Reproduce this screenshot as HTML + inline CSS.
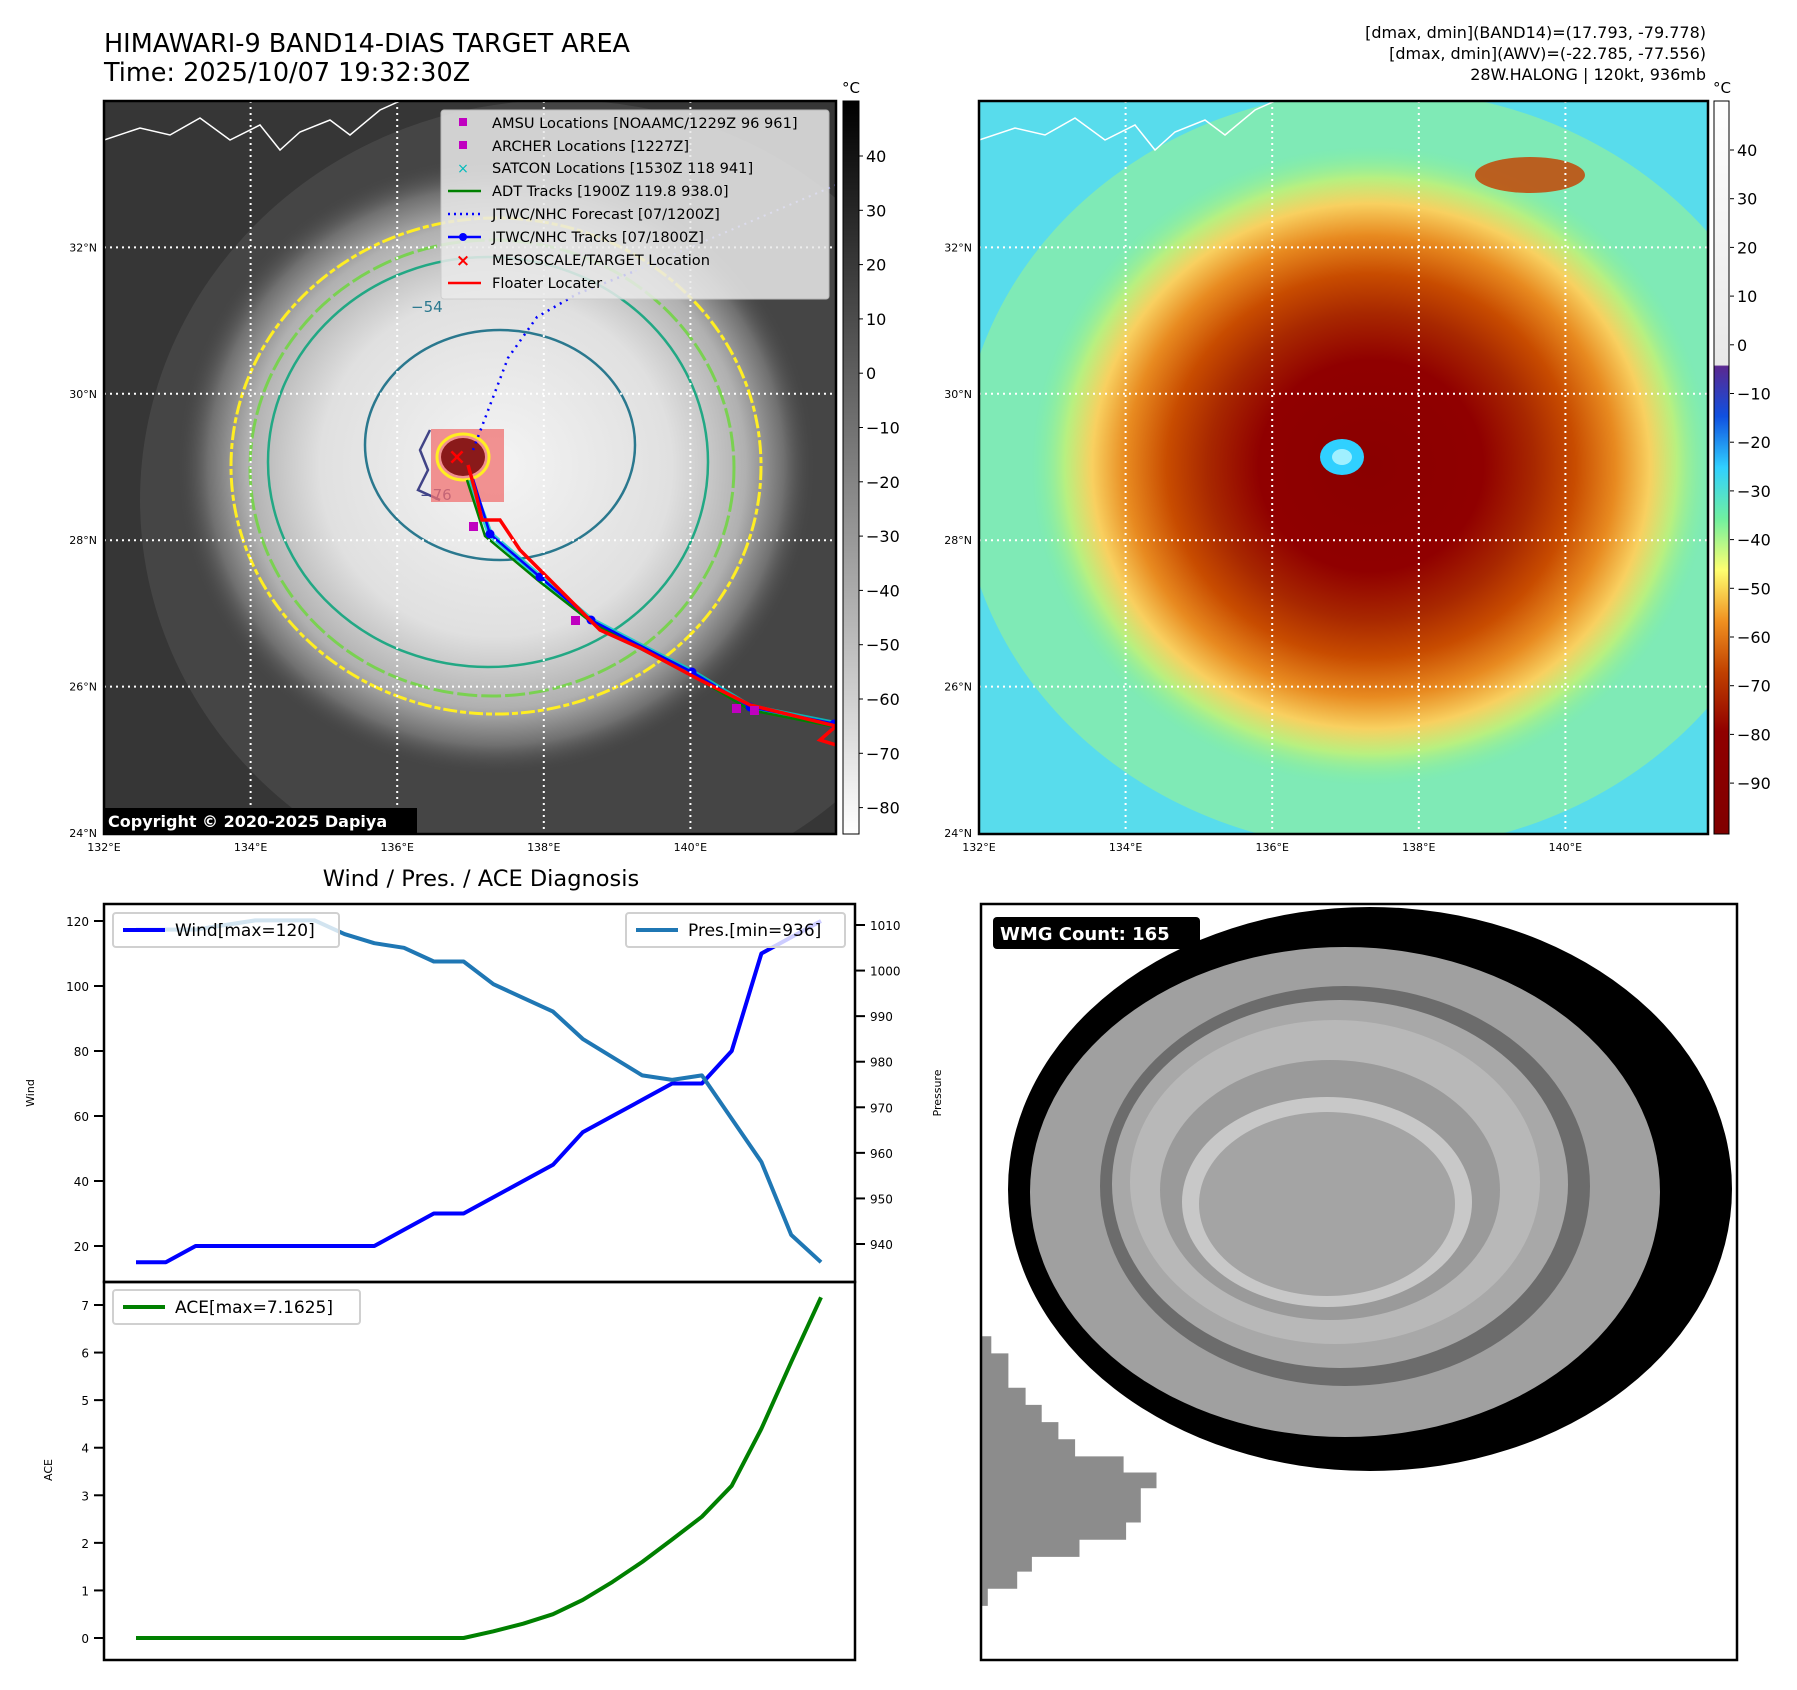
<!DOCTYPE html>
<html><head><meta charset="utf-8">
<style>
html,body{margin:0;padding:0;background:#fff;}
svg{display:block;font-family:"DejaVu Sans","Liberation Sans",sans-serif;}
</style></head>
<body>
<svg id="root" width="1797" height="1690" viewBox="0 0 1797 1690" xmlns="http://www.w3.org/2000/svg">
<defs>
  <radialGradient id="cloud1" cx="0.5" cy="0.5" r="0.5">
    <stop offset="0" stop-color="#f4f4f4"/>
    <stop offset="0.55" stop-color="#e0e0e0"/>
    <stop offset="0.78" stop-color="#b0b0b0"/>
    <stop offset="0.9" stop-color="#707070"/>
    <stop offset="1" stop-color="#444" stop-opacity="0"/>
  </radialGradient>
  <radialGradient id="cloud2" cx="0.5" cy="0.5" r="0.5">
    <stop offset="0" stop-color="#8a0000"/>
    <stop offset="0.33" stop-color="#900000"/>
    <stop offset="0.48" stop-color="#a82800"/>
    <stop offset="0.6" stop-color="#c84c00"/>
    <stop offset="0.72" stop-color="#e88a20"/>
    <stop offset="0.82" stop-color="#f8d060"/>
    <stop offset="0.9" stop-color="#b8f080"/>
    <stop offset="1" stop-color="#80f0a0" stop-opacity="0"/>
  </radialGradient>
  <linearGradient id="cbar1" x1="0" y1="0" x2="0" y2="1">
    <stop offset="0" stop-color="#000"/><stop offset="1" stop-color="#fff"/>
  </linearGradient>
  <linearGradient id="cbar2" x1="0" y1="0" x2="0" y2="1">
    <stop offset="0" stop-color="#ffffff"/>
    <stop offset="0.36" stop-color="#e8e8e8"/>
    <stop offset="0.362" stop-color="#5a2890"/>
    <stop offset="0.43" stop-color="#1050e0"/>
    <stop offset="0.50" stop-color="#30d0ff"/>
    <stop offset="0.57" stop-color="#70f0a0"/>
    <stop offset="0.64" stop-color="#ffff70"/>
    <stop offset="0.71" stop-color="#f09020"/>
    <stop offset="0.78" stop-color="#c04000"/>
    <stop offset="0.86" stop-color="#900000"/>
    <stop offset="1" stop-color="#800000"/>
  </linearGradient>
  <clipPath id="clip1"><rect x="104" y="101" width="732" height="733"/></clipPath>
  <clipPath id="clip2"><rect x="979" y="101" width="729" height="733"/></clipPath>
  <clipPath id="clip4"><rect x="981" y="904" width="756" height="756"/></clipPath>
</defs>

<text x="104" y="52" font-size="25.5" fill="#000">HIMAWARI-9 BAND14-DIAS TARGET AREA</text>
<text x="104" y="81" font-size="25.5" fill="#000">Time: 2025/10/07 19:32:30Z</text>
<g font-size="16" text-anchor="end" fill="#000">
  <text x="1706" y="38">[dmax, dmin](BAND14)=(17.793, -79.778)</text>
  <text x="1706" y="59">[dmax, dmin](AWV)=(-22.785, -77.556)</text>
  <text x="1706" y="80">28W.HALONG | 120kt, 936mb</text>
</g>

<g id="map1">
  <g clip-path="url(#clip1)">
    <rect x="104" y="101" width="732" height="733" fill="#363636"/>
    <ellipse cx="560" cy="500" rx="420" ry="400" fill="#505050" opacity="0.6"/>
    <ellipse cx="496" cy="466" rx="320" ry="310" fill="url(#cloud1)"/>
    <path d="M104,140 L140,128 L170,135 L200,118 L230,140 L260,125 L280,150 L300,132 L330,120 L350,135 L380,110 L400,101" fill="none" stroke="#fff" stroke-width="1.5"/>
    <ellipse cx="496" cy="466" rx="265" ry="248" fill="none" stroke="#ffee22" stroke-width="3" stroke-dasharray="14 3 6 3"/>
    <ellipse cx="492" cy="468" rx="242" ry="228" fill="none" stroke="#7ad151" stroke-width="3" stroke-dasharray="20 4"/>
    <ellipse cx="488" cy="462" rx="220" ry="205" fill="none" stroke="#22a884" stroke-width="2.5"/>
    <ellipse cx="500" cy="445" rx="135" ry="115" fill="none" stroke="#2a788e" stroke-width="2.5"/>
    <path d="M430,430 L420,450 L428,470 L418,490 L440,500" fill="none" stroke="#414487" stroke-width="2.5"/>
    <text x="411" y="312" font-size="15" fill="#2a788e">−54</text>
    <text x="420" y="500" font-size="15" fill="#414487">−76</text>
    <rect x="431" y="429" width="73" height="73" fill="#f07070" opacity="0.75"/>
    <ellipse cx="463" cy="457" rx="26" ry="23" fill="none" stroke="#ffee22" stroke-width="3"/>
    <ellipse cx="463" cy="457" rx="22" ry="19" fill="#8a1a1a"/>
    <polyline points="473,450 508,358 537,317 577,294 635,271" fill="none" stroke="#0000ff" stroke-width="2.5" stroke-dasharray="2 5"/>
    <polyline points="635,271 836,185" fill="none" stroke="#9090ff" stroke-width="2" stroke-dasharray="2 5"/>
    <polyline points="470,480 490,534 540,577 591,620 635,643 692,672 750,707 836,724" fill="none" stroke="#00cccc" stroke-width="6" opacity="0.8"/>
    <polyline points="467,480 485,536 540,582 591,622 635,646 692,675 750,710 836,727" fill="none" stroke="#008000" stroke-width="2.5"/>
    <polyline points="473,479 490,534 540,577 591,620 635,643 692,672 750,707 836,724" fill="none" stroke="#0000ff" stroke-width="2.5"/>
    <g fill="#0000ff"><circle cx="490" cy="534" r="4.5"/><circle cx="540" cy="577" r="4.5"/><circle cx="591" cy="620" r="4.5"/><circle cx="692" cy="672" r="4.5"/><circle cx="750" cy="707" r="4.5"/><circle cx="834" cy="724" r="4.5"/></g>
    <polyline points="468,465 475,490 482,520 500,520 520,550 560,590 600,630 640,648 700,680 750,705 836,726 820,740 836,745" fill="none" stroke="#ff0000" stroke-width="3.5"/>
    <g fill="#c000c0"><rect x="469" y="522" width="9" height="9"/><rect x="571" y="616" width="9" height="9"/><rect x="750" y="706" width="9" height="9"/><rect x="732" y="704" width="9" height="9"/></g>
    <text x="457" y="464" font-size="22" fill="#ff0000" text-anchor="middle" font-weight="bold">×</text>
  </g>
  <g stroke="#fff" stroke-width="2" stroke-dasharray="2 4" id="grid1"></g>
  <rect x="104" y="101" width="732" height="733" fill="none" stroke="#000" stroke-width="2.5"/>
  <g id="ticks1" font-size="11" fill="#000"></g>
  <rect x="104" y="808" width="313" height="26" fill="#000"/>
  <text x="108" y="827" font-size="16" font-weight="bold" fill="#fff">Copyright © 2020-2025 Dapiya</text>
  <g>
    <rect x="441" y="110" width="388" height="189" rx="3" fill="#eaeaea" opacity="0.85" stroke="#ccc"/>
    <g font-size="14.6" fill="#000">
      <rect x="459" y="118" width="8" height="8" fill="#c000c0"/><text x="492" y="128">AMSU Locations [NOAAMC/1229Z 96 961]</text>
      <rect x="459" y="141" width="8" height="8" fill="#c000c0"/><text x="492" y="151">ARCHER Locations [1227Z]</text>
      <text x="463" y="173" fill="#00bbbb" text-anchor="middle" font-size="14">×</text><text x="492" y="173">SATCON Locations [1530Z 118 941]</text>
      <line x1="448" y1="191" x2="481" y2="191" stroke="#008000" stroke-width="2.5"/><text x="492" y="196">ADT Tracks [1900Z 119.8 938.0]</text>
      <line x1="448" y1="214" x2="481" y2="214" stroke="#0000ff" stroke-width="2.5" stroke-dasharray="2 4"/><text x="492" y="219">JTWC/NHC Forecast [07/1200Z]</text>
      <line x1="448" y1="237" x2="481" y2="237" stroke="#0000ff" stroke-width="2.5"/><circle cx="463" cy="237" r="4" fill="#0000ff"/><text x="492" y="242">JTWC/NHC Tracks [07/1800Z]</text>
      <text x="463" y="266" fill="#ff0000" text-anchor="middle" font-weight="bold" font-size="17">×</text><text x="492" y="265">MESOSCALE/TARGET Location</text>
      <line x1="448" y1="283" x2="481" y2="283" stroke="#ff0000" stroke-width="2.5"/><text x="492" y="288">Floater Locater</text>
    </g>
  </g>
  <rect x="843" y="101" width="16" height="733" fill="url(#cbar1)" stroke="#000" stroke-width="1"/>
  <text x="851" y="93" font-size="15" text-anchor="middle">°C</text>
  <g id="cb1" font-size="16" fill="#000"></g>
</g>

<g id="map2">
  <g clip-path="url(#clip2)">
    <rect x="979" y="101" width="729" height="733" fill="#58dcec"/>
    <ellipse cx="1380" cy="470" rx="420" ry="380" fill="#90f0a0" opacity="0.7"/>
    <ellipse cx="1371" cy="466" rx="340" ry="320" fill="url(#cloud2)"/>
    <ellipse cx="1530" cy="175" rx="55" ry="18" fill="#c05010" opacity="0.9"/>
    <ellipse cx="1342" cy="457" rx="22" ry="18" fill="#30d0ff"/>
    <ellipse cx="1342" cy="457" rx="10" ry="8" fill="#a0f0ff"/>
    <path d="M979,140 L1015,128 L1045,135 L1075,118 L1105,140 L1135,125 L1155,150 L1175,132 L1205,120 L1225,135 L1255,110 L1275,101" fill="none" stroke="#fff" stroke-width="1.5"/>
  </g>
  <g stroke="#fff" stroke-width="2" stroke-dasharray="2 4" id="grid2"></g>
  <rect x="979" y="101" width="729" height="733" fill="none" stroke="#000" stroke-width="2.5"/>
  <g id="ticks2" font-size="11" fill="#000"></g>
  <rect x="1714" y="101" width="15" height="733" fill="url(#cbar2)" stroke="#000" stroke-width="1"/>
  <text x="1722" y="93" font-size="15" text-anchor="middle">°C</text>
  <g id="cb2" font-size="16" fill="#000"></g>
</g>

<text x="481" y="886" font-size="22.5" text-anchor="middle" fill="#000">Wind / Pres. / ACE Diagnosis</text>
<g id="chart"></g>

<g id="wmg">
  <g clip-path="url(#clip4)">
    <rect x="981" y="904" width="756" height="756" fill="#fff"/>
    <ellipse cx="1370" cy="1189" rx="362" ry="282" fill="#000"/>
    <ellipse cx="1345" cy="1192" rx="315" ry="245" fill="#a0a0a0"/>
    <ellipse cx="1345" cy="1186" rx="245" ry="200" fill="#6c6c6c"/>
    <ellipse cx="1340" cy="1184" rx="228" ry="184" fill="#a8a8a8"/>
    <ellipse cx="1335" cy="1182" rx="205" ry="162" fill="#b8b8b8"/>
    <ellipse cx="1330" cy="1190" rx="170" ry="130" fill="#9a9a9a"/>
    <ellipse cx="1327" cy="1202" rx="145" ry="105" fill="#c8c8c8"/>
    <ellipse cx="1327" cy="1204" rx="128" ry="92" fill="#a4a4a4"/>
    <path id="blob" fill="#8c8c8c"/>
  </g>
  <rect x="981" y="904" width="756" height="756" fill="none" stroke="#000" stroke-width="2.5"/>
  <rect x="993" y="917" width="207" height="32" rx="4" fill="#000"/>
  <text x="1000" y="940" font-size="18" font-weight="bold" fill="#fff">WMG Count: 165</text>
</g>

<script>
const windVals = [15,15,20,20,20,20,20,20,20,25,30,30,35,40,45,55,60,65,70,70,80,110,115,120];
const presVals = [1009,1009,1009,1010,1011,1011,1011,1008,1006,1005,1002,1002,997,994,991,985,981,977,976,977,967.5,958,942,936];
const aceVals = [0,0,0,0,0,0,0,0,0,0,0,0,0.14,0.3,0.5,0.8,1.18,1.6,2.07,2.55,3.2,4.4,5.8,7.1625];
const windTicks = [20,40,60,80,100,120];
const presTicks = [940,950,960,970,980,990,1000,1010];
const aceTicks = [0,1,2,3,4,5,6,7];
const lonTicks = [132,134,136,138,140];
const latTicks = [24,26,28,30,32];
const cb1Ticks = [40,30,20,10,0,-10,-20,-30,-40,-50,-60,-70,-80];
const cb2Ticks = [40,30,20,10,0,-10,-20,-30,-40,-50,-60,-70,-80,-90];

const NS = 'http://www.w3.org/2000/svg';
function mk(tag, attrs, parent){ const e=document.createElementNS(NS,tag); for(const k in attrs) e.setAttribute(k,attrs[k]); parent.appendChild(e); return e; }

function lonX(lon, x0){ return x0 + (lon-132)*73.3; }
function latY(lat){ return 833 - (lat-24)*73.2; }
function drawMapAxes(gridId, tickId, x0, xR){
  const g=document.getElementById(gridId), t=document.getElementById(tickId);
  lonTicks.forEach(lon=>{
    const x=lonX(lon,x0);
    if(lon>132){ const l=mk('line',{x1:x,y1:101,x2:x,y2:834},g);
      
       }
    const tx=mk('text',{x:x,y:851,'text-anchor':'middle'},t); tx.textContent=lon+'°E';
    
    
  });
  latTicks.forEach(lat=>{
    const y=latY(lat);
    if(lat>24){ const l=mk('line',{x1:x0,y1:y,x2:xR,y2:y},g);
      
       }
    const tx=mk('text',{x:x0-7,y:y+4,'text-anchor':'end'},t); tx.textContent=lat+'°N';
    
    
  });
}
drawMapAxes('grid1','ticks1',104,836);
drawMapAxes('grid2','ticks2',979,1708);

function drawCb(id, ticks, x, yOf){
  const g=document.getElementById(id);
  ticks.forEach(v=>{
    const y=yOf(v);
    mk('line',{x1:x-7,y1:y,x2:x-3,y2:y,stroke:'#000'},g);
    const tx=mk('text',{x:x,y:y+6},g); tx.textContent=(v<0?'−'+(-v):v);
    
    
  });
}
drawCb('cb1', cb1Ticks, 866, v=>156+(40-v)*5.43);
drawCb('cb2', cb2Ticks, 1737, v=>150+(40-v)*4.87);

const blobPts=[[5,890],[25,890],[25,925],[60,925],[60,995],[95,995],[95,1030],[128,1030],[128,1065],[162,1065],[162,1100],[196,1100],[196,1135],[295,1135],[295,1168],[362,1168],[362,1200],[330,1200],[330,1270],[300,1270],[300,1305],[205,1305],[205,1340],[108,1340],[108,1370],[78,1370],[78,1405],[18,1405],[18,1440],[5,1440]];
document.getElementById('blob').setAttribute('d','M'+blobPts.map(p=>(979+p[0]/2.04).toFixed(1)+','+(900+p[1]/2.04).toFixed(1)).join(' L')+' Z');

const C=document.getElementById('chart');
const L=104,R=855,T=904,M=1282,B=1660;
const n=windVals.length;
function xS(i){ return 136 + i*(821-136)/(n-1); }
function yWind(v){ return 921 + (120-v)*(1246-921)/100; }
function yPres(v){ return 925 + (1010-v)*(1244-925)/70; }
function yAce(v){ return 1638 - v*(1638-1305)/7; }

const f1=mk('rect',{x:L,y:T,width:R-L,height:M-T,fill:'none',stroke:'#000','stroke-width':2.5},C);


const f2=mk('rect',{x:L,y:M,width:R-L,height:B-M,fill:'none',stroke:'#000','stroke-width':2.5},C);



function leftTicks(ticks, yf, prefix){
  ticks.forEach(v=>{
    const y=yf(v);
    mk('line',{x1:L-10,y1:y,x2:L,y2:y,stroke:'#000','stroke-width':2},C);
    const t=mk('text',{x:L-15,y:y+5,'text-anchor':'end','font-size':12},C); t.textContent=v;
    
    
  });
}
leftTicks(windTicks,yWind,'wind');
leftTicks(aceTicks,yAce,'ace');
presTicks.forEach(v=>{
  const y=yPres(v);
  mk('line',{x1:R,y1:y,x2:R+10,y2:y,stroke:'#000','stroke-width':2},C);
  const t=mk('text',{x:R+15,y:y+5,'font-size':12},C); t.textContent=v;
  
  
});
function vlabel(txt,x,y,name){
  const t=mk('text',{x:x,y:y,'font-size':11,'text-anchor':'middle',transform:'rotate(-90 '+x+' '+y+')'},C); t.textContent=txt;
  
  
}
vlabel('Wind',34,1093,'wind-axis-title');
vlabel('Pressure',941,1093,'pressure-axis-title');
vlabel('ACE',52,1470,'ace-axis-title');

function line(vals, yf, color, name){
  const p=mk('polyline',{points:vals.map((v,i)=>xS(i).toFixed(1)+','+yf(v).toFixed(1)).join(' '),fill:'none',stroke:color,'stroke-width':4,'stroke-linejoin':'round'},C);
  
  
}
line(windVals,yWind,'#0000ff','wind-line');
line(presVals,yPres,'#1f77b4','pressure-line');
line(aceVals,yAce,'#008000','ace-line');

function legend(x,y,w,color,label,name){
  const g=mk('g',{},C);
  
  
  mk('rect',{x:x,y:y,width:w,height:34,rx:3,fill:'#fff','fill-opacity':0.8,stroke:'#d0d0d0','stroke-width':2},g);
  mk('line',{x1:x+10,y1:y+17,x2:x+52,y2:y+17,stroke:color,'stroke-width':4},g);
  const t=mk('text',{x:x+62,y:y+23,'font-size':17},g); t.textContent=label;
}
legend(113,913,226,'#0000ff','Wind[max=120]','wind-legend');
legend(626,913,219,'#1f77b4','Pres.[min=936]','pressure-legend');
legend(113,1290,247,'#008000','ACE[max=7.1625]','ace-legend');
</script>
</svg>
</body></html>
